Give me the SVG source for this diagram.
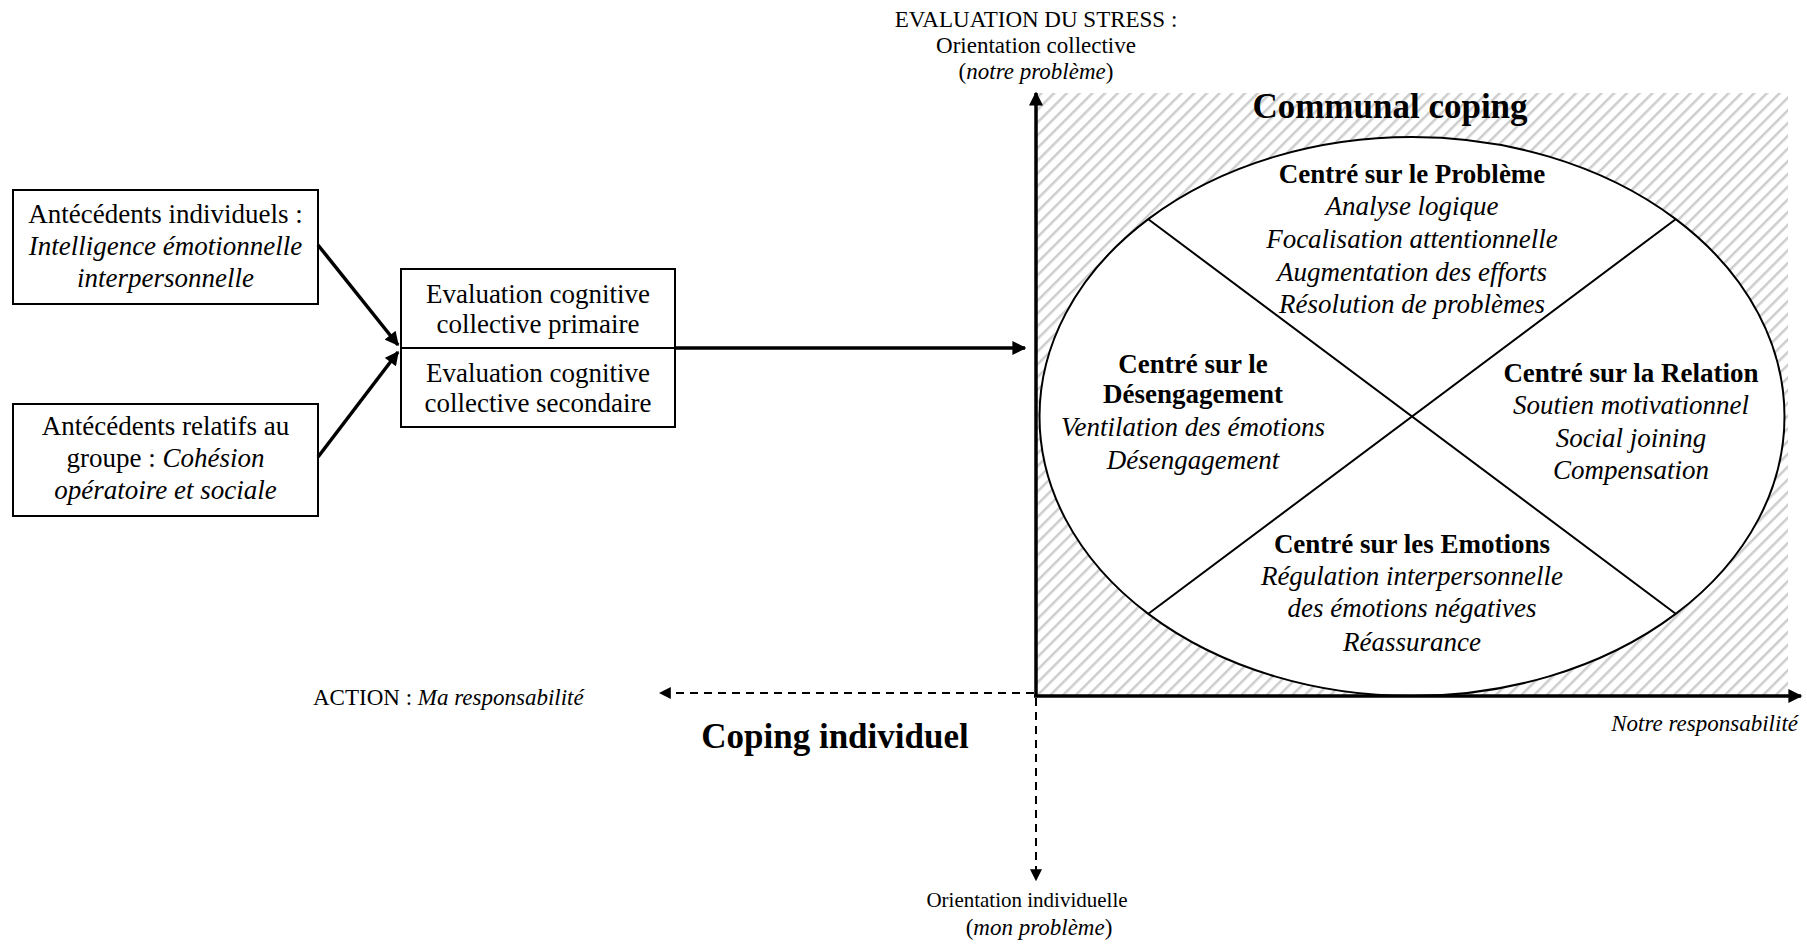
<svg xmlns="http://www.w3.org/2000/svg" width="1807" height="944" viewBox="0 0 1807 944">
  <style>
    text { font-family: "Liberation Serif", "Times New Roman", serif; fill: #000; }
    .t27 { font-size: 27px; text-anchor: middle; }
    .t23 { font-size: 23px; }
    .mid { text-anchor: middle; }
    .b { font-weight: bold; }
    .i { font-style: italic; }
    .box { fill: #fff; stroke: #000; stroke-width: 2; }
    .solid { stroke: #000; stroke-width: 3.5; fill: none; }
    .dash { stroke: #000; stroke-width: 2; fill: none; stroke-dasharray: 8 6; }
    .thin { stroke: #000; stroke-width: 2; fill: none; }
  </style>
  <defs>
    <pattern id="hatch" width="9" height="9" patternUnits="userSpaceOnUse" patternTransform="rotate(45)">
      <rect width="9" height="9" fill="#fff"/>
      <line x1="0" y1="0" x2="0" y2="9" stroke="#cdcdcd" stroke-width="5"/>
    </pattern>
    <marker id="head" viewBox="0 0 10 10" refX="9" refY="5" markerWidth="4.2" markerHeight="4" orient="auto" markerUnits="strokeWidth">
      <path d="M0,0 L10,5 L0,10 Z" fill="#000"/>
    </marker>
    <marker id="headS" viewBox="0 0 10 10" refX="9" refY="5" markerWidth="6" markerHeight="6" orient="auto" markerUnits="strokeWidth">
      <path d="M0,0 L10,5 L0,10 Z" fill="#000"/>
    </marker>
  </defs>

  <rect width="1807" height="944" fill="#fff"/>

  <!-- communal coping quadrant (hatched) -->
  <g id="quadrant">
    <rect x="1036" y="93" width="752" height="603" fill="url(#hatch)"/>
    <text x="1390" y="118" class="b mid" style="font-size:35px">Communal coping</text>
  </g>

  <!-- ellipse of coping strategies -->
  <g id="strategies">
    <ellipse cx="1412" cy="416.5" rx="372.5" ry="279.5" fill="#fff" stroke="#000" stroke-width="2"/>
    <line x1="1148" y1="219" x2="1676" y2="614" class="thin"/>
    <line x1="1148" y1="614" x2="1676" y2="219" class="thin"/>
  </g>

  <g id="probleme">
    <text class="t27 b" x="1412" y="183">Centré sur le Problème</text>
    <text class="t27 i" x="1412" y="215">Analyse logique</text>
    <text class="t27 i" x="1412" y="248">Focalisation attentionnelle</text>
    <text class="t27 i" x="1412" y="281">Augmentation des efforts</text>
    <text class="t27 i" x="1412" y="313">Résolution de problèmes</text>
  </g>

  <g id="desengagement">
    <text class="t27 b" x="1193" y="373">Centré sur le</text>
    <text class="t27 b" x="1193" y="403">Désengagement</text>
    <text class="t27 i" x="1193" y="436">Ventilation des émotions</text>
    <text class="t27 i" x="1193" y="469">Désengagement</text>
  </g>

  <g id="relation">
    <text class="t27 b" x="1631" y="382">Centré sur la Relation</text>
    <text class="t27 i" x="1631" y="414">Soutien motivationnel</text>
    <text class="t27 i" x="1631" y="447">Social joining</text>
    <text class="t27 i" x="1631" y="479">Compensation</text>
  </g>

  <g id="emotions">
    <text class="t27 b" x="1412" y="553">Centré sur les Emotions</text>
    <text class="t27 i" x="1412" y="585">Régulation interpersonnelle</text>
    <text class="t27 i" x="1412" y="617">des émotions négatives</text>
    <text class="t27 i" x="1412" y="651">Réassurance</text>
  </g>

  <!-- antecedent boxes -->
  <g id="antecedents-individuels">
    <rect class="box" x="13" y="190" width="305" height="114"/>
    <text class="t27" x="165.5" y="223">Antécédents individuels :</text>
    <text class="t27 i" x="165.5" y="255">Intelligence émotionnelle</text>
    <text class="t27 i" x="165.5" y="287">interpersonnelle</text>
  </g>

  <g id="antecedents-groupe">
    <rect class="box" x="13" y="404" width="305" height="112"/>
    <text class="t27" x="165.5" y="435">Antécédents relatifs au</text>
    <text class="t27" x="165.5" y="467">groupe : <tspan class="i">Cohésion</tspan></text>
    <text class="t27 i" x="165.5" y="499">opératoire et sociale</text>
  </g>

  <g id="evaluation">
    <rect class="box" x="401" y="269" width="274" height="79"/>
    <rect class="box" x="401" y="348" width="274" height="79"/>
    <text class="t27" x="538" y="303">Evaluation cognitive</text>
    <text class="t27" x="538" y="333">collective primaire</text>
    <text class="t27" x="538" y="382">Evaluation cognitive</text>
    <text class="t27" x="538" y="412">collective secondaire</text>
  </g>

  <!-- axis labels -->
  <g id="axis-labels">
    <text class="t23 mid" x="1036" y="27">EVALUATION DU STRESS :</text>
    <text class="t23 mid" x="1036" y="53">Orientation collective</text>
    <text class="t23 mid" x="1036" y="79">(<tspan class="i">notre problème</tspan>)</text>
    <text class="t23" x="313" y="705">ACTION : <tspan class="i">Ma responsabilité</tspan></text>
    <text class="t23 i" x="1798" y="731" text-anchor="end">Notre responsabilité</text>
    <text class="mid" x="1027" y="907" style="font-size:21px">Orientation individuelle</text>
    <text class="t23 mid" x="1039" y="935">(<tspan class="i">mon problème</tspan>)</text>
    <text class="b mid" x="835" y="748" style="font-size:35px">Coping individuel</text>
  </g>

  <!-- connectors and axes -->
  <g id="connectors">
    <line x1="318" y1="245" x2="398" y2="345" class="solid" marker-end="url(#head)"/>
    <line x1="318" y1="457" x2="398" y2="352" class="solid" marker-end="url(#head)"/>
    <line x1="675" y1="348" x2="1025" y2="348" class="solid" marker-end="url(#head)"/>
    <line x1="1036" y1="697" x2="1036" y2="93" class="solid" marker-end="url(#head)"/>
    <line x1="1034" y1="696" x2="1801" y2="696" class="solid" marker-end="url(#head)"/>
    <line x1="1034" y1="693" x2="660" y2="693" class="dash" marker-end="url(#headS)"/>
    <line x1="1036" y1="698" x2="1036" y2="880" class="dash" marker-end="url(#headS)"/>
  </g>
</svg>
